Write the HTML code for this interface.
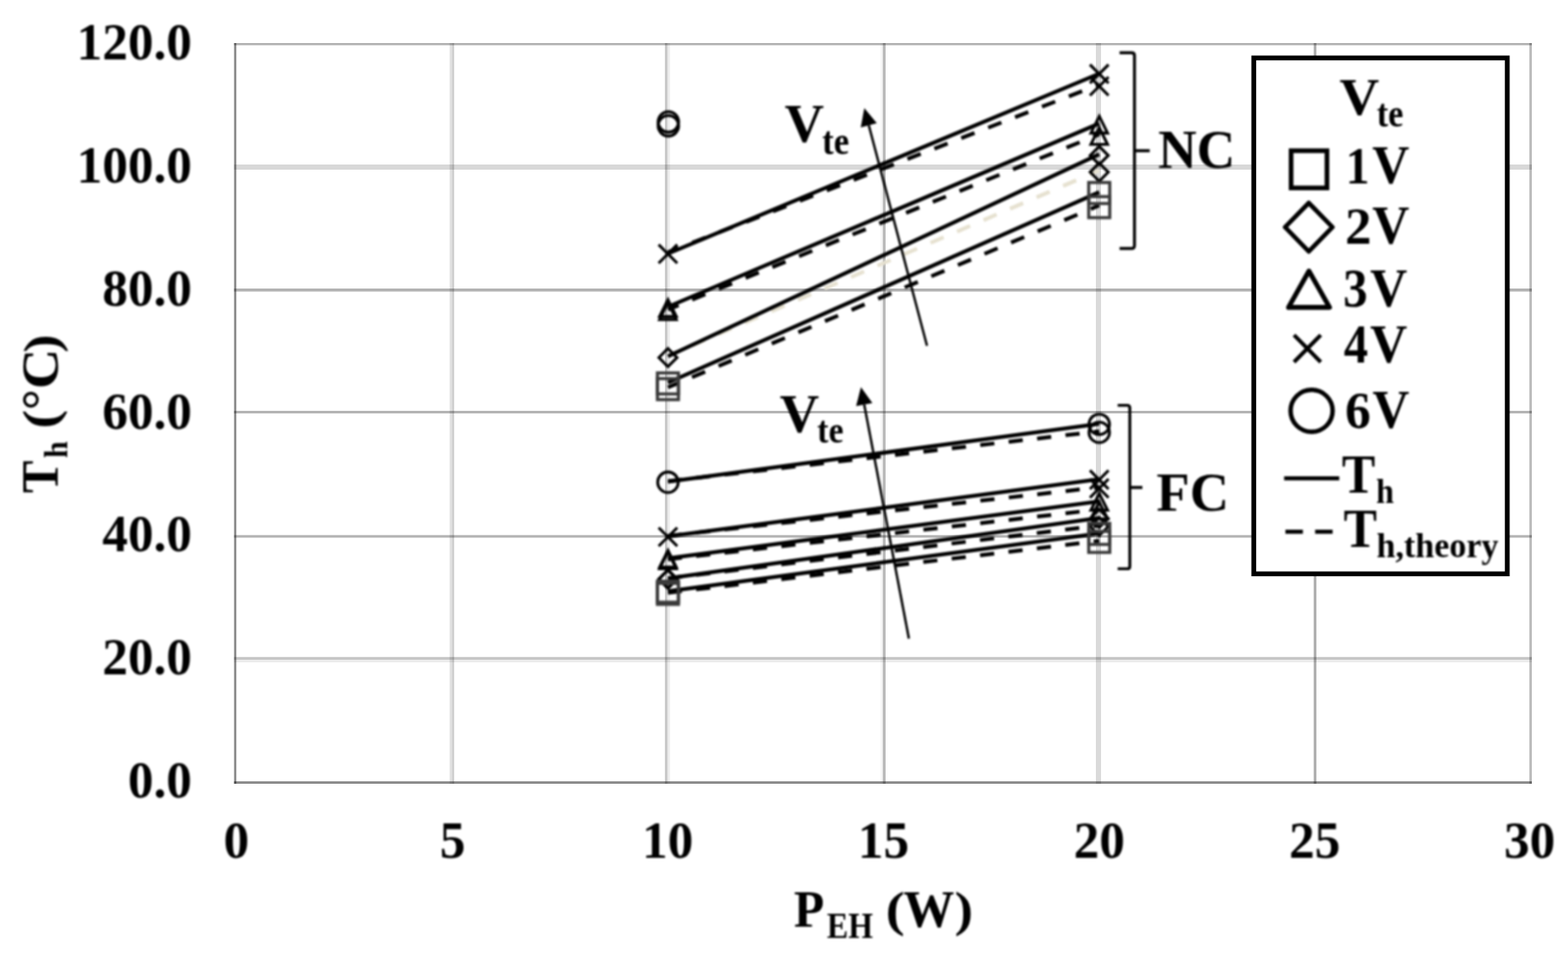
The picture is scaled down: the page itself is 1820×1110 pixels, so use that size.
<!DOCTYPE html>
<html lang="en"><head><meta charset="utf-8"><title>Th vs PEH</title>
<style>html,body{margin:0;padding:0;background:#fff;}body{width:1820px;height:1110px;overflow:hidden;}svg{display:block;}.s{filter:blur(1px);}.g{filter:blur(0.45px);}#grid rect{mix-blend-mode:multiply;}text{font-family:"Liberation Serif", "DejaVu Serif", serif;font-weight:bold;fill:#000;}</style></head><body>
<svg width="1820" height="1110" viewBox="0 0 1820 1110" role="img" aria-label="Hot-side temperature versus heater power">
<rect x="0" y="0" width="1820" height="1110" fill="#ffffff"/>
<g id="grid" class="g">
<rect x="521.8" y="50.0" width="2.7" height="860.0" fill="#e3e3e3"/>
<rect x="524.5" y="50.0" width="2.7" height="860.0" fill="#cfcfcf"/>
<rect x="771.8" y="50.0" width="2.8" height="860.0" fill="#c6c6c6"/>
<rect x="774.6" y="50.0" width="2.9" height="860.0" fill="#ececec"/>
<rect x="1022.0" y="50.0" width="2.7" height="860.0" fill="#f6f6f6"/>
<rect x="1024.7" y="50.0" width="3.2" height="860.0" fill="#b8b8b8"/>
<rect x="1272.0" y="50.0" width="6.0" height="860.0" fill="#dadada"/>
<rect x="1524.8" y="50.0" width="3.2" height="860.0" fill="#b0b0b0"/>
<rect x="271.7" y="191.0" width="1506.3" height="6.0" fill="#d8d8d8"/>
<rect x="271.7" y="335.0" width="1506.3" height="3.5" fill="#b2b2b2"/>
<rect x="271.7" y="477.0" width="1506.3" height="3.0" fill="#b4b4b4"/>
<rect x="271.7" y="621.3" width="1506.3" height="3.0" fill="#b4b4b4"/>
<rect x="271.7" y="762.8" width="1506.3" height="3.2" fill="#c6c6c6"/>
<rect x="271.7" y="766.0" width="1506.3" height="3.0" fill="#ececec"/>
<rect x="271.7" y="50.0" width="1506.3" height="2.5" fill="#b0b0b0"/>
<rect x="1775.2" y="50.0" width="2.8" height="860" fill="#bababa"/>
<rect x="271.7" y="50.0" width="2.6" height="860" fill="#888888"/>
<rect x="271.7" y="907.2" width="1506.3" height="2.8" fill="#888888"/>
</g>
<g id="plot" class="s">
<g id="theory" fill="none" stroke-width="4.5">
<line x1="775.3" y1="292.8" x2="1275.9" y2="98.1" stroke="#000" stroke-dasharray="16.5 17" stroke-dashoffset="3.2"/>
<line x1="775.3" y1="359.3" x2="1275.9" y2="156.0" stroke="#000" stroke-dasharray="16.5 17" stroke-dashoffset="3.2"/>
<line x1="775.3" y1="413.2" x2="1275.9" y2="197.8" stroke="#e6e1d0" stroke-dasharray="16.5 17" stroke-dashoffset="3.2"/>
<line x1="775.3" y1="449.8" x2="1275.9" y2="238.5" stroke="#000" stroke-dasharray="16.5 17" stroke-dashoffset="3.2"/>
<line x1="775.3" y1="558.7" x2="1275.9" y2="500.8" stroke="#000" stroke-dasharray="16.5 16.7" stroke-dashoffset="0.3"/>
<line x1="775.3" y1="622.2" x2="1275.9" y2="565.8" stroke="#000" stroke-dasharray="16.5 16.7" stroke-dashoffset="0.3"/>
<line x1="775.3" y1="649.4" x2="1275.9" y2="591.5" stroke="#000" stroke-dasharray="16.5 16.7" stroke-dashoffset="0.3"/>
<line x1="775.3" y1="671.5" x2="1275.9" y2="610.1" stroke="#000" stroke-dasharray="16.5 16.7" stroke-dashoffset="0.3"/>
<line x1="775.3" y1="688.3" x2="1275.9" y2="628.0" stroke="#000" stroke-dasharray="16.5 16.7" stroke-dashoffset="0.3"/>
</g>
<g id="measured" fill="none" stroke="#000" stroke-width="4.5">
<line x1="775.3" y1="294.5" x2="1275.9" y2="85.5"/>
<line x1="775.3" y1="356.3" x2="1275.9" y2="143.4"/>
<line x1="775.3" y1="413.8" x2="1275.9" y2="179.1"/>
<line x1="775.3" y1="444.2" x2="1275.9" y2="223.1"/>
<line x1="775.3" y1="559.3" x2="1275.9" y2="492.1"/>
<line x1="775.3" y1="622.8" x2="1275.9" y2="556.4"/>
<line x1="775.3" y1="648.2" x2="1275.9" y2="582.1"/>
<line x1="775.3" y1="671.4" x2="1275.9" y2="601.4"/>
<line x1="775.3" y1="686.4" x2="1275.9" y2="619.3"/>
</g>
<g id="markers" fill="none" stroke="#000">
<path d="M764.5 284.0L786.1 305.6M764.5 305.6L786.1 284.0" stroke-width="3.3"/>
<path d="M1265.1 75.0L1286.7 96.6M1265.1 96.6L1286.7 75.0" stroke-width="3.3"/>
<path d="M1265.1 89.3L1286.7 110.9M1265.1 110.9L1286.7 89.3" stroke-width="3.3"/>
<path d="M775.3 348.0L785.0 367.4L765.6 367.4Z" stroke-width="3.3"/>
<path d="M775.3 351.6L785.0 371.0L765.6 371.0Z" stroke-width="3.3"/>
<path d="M1275.9 135.1L1285.6 154.5L1266.2 154.5Z" stroke-width="3.3"/>
<path d="M1275.9 148.3L1285.6 167.7L1266.2 167.7Z" stroke-width="3.3"/>
<path d="M775.3 404.7L785.8 415.2L775.3 425.7L764.8 415.2Z" stroke-width="3.3"/>
<path d="M1275.9 170.0L1286.4 180.5L1275.9 191.0L1265.4 180.5Z" stroke-width="3.3"/>
<path d="M1275.9 189.3L1286.4 199.8L1275.9 210.3L1265.4 199.8Z" stroke-width="3.3"/>
<rect x="763.1" y="433.0" width="24.4" height="24.4" stroke="#3a3a3a" stroke-width="3.6"/>
<rect x="763.1" y="439.6" width="24.4" height="24.4" stroke="#3a3a3a" stroke-width="3.6"/>
<rect x="1263.7" y="211.9" width="24.4" height="24.4" stroke="#3a3a3a" stroke-width="3.6"/>
<rect x="1263.7" y="228.3" width="24.4" height="24.4" stroke="#3a3a3a" stroke-width="3.6"/>
<circle cx="775.3" cy="559.9" r="11.9" stroke-width="3.3"/>
<circle cx="1275.9" cy="492.7" r="11.9" stroke-width="3.3"/>
<circle cx="1275.9" cy="502.0" r="11.9" stroke-width="3.3"/>
<path d="M764.5 612.6L786.1 634.2M764.5 634.2L786.1 612.6" stroke-width="3.3"/>
<path d="M1265.1 546.2L1286.7 567.8M1265.1 567.8L1286.7 546.2" stroke-width="3.3"/>
<path d="M1265.1 556.2L1286.7 577.8M1265.1 577.8L1286.7 556.2" stroke-width="3.3"/>
<path d="M775.3 639.1L785.0 658.5L765.6 658.5Z" stroke-width="3.3"/>
<path d="M775.3 640.9L785.0 660.3L765.6 660.3Z" stroke-width="3.3"/>
<path d="M1275.9 573.0L1285.6 592.4L1266.2 592.4Z" stroke-width="3.3"/>
<path d="M1275.9 583.0L1285.6 602.4L1266.2 602.4Z" stroke-width="3.3"/>
<path d="M775.3 661.5L785.8 672.0L775.3 682.5L764.8 672.0Z" stroke-width="3.3"/>
<path d="M775.3 662.2L785.8 672.7L775.3 683.2L764.8 672.7Z" stroke-width="3.3"/>
<path d="M1275.9 591.5L1286.4 602.0L1275.9 612.5L1265.4 602.0Z" stroke-width="3.3"/>
<path d="M1275.9 600.8L1286.4 611.3L1275.9 621.8L1265.4 611.3Z" stroke-width="3.3"/>
<rect x="763.1" y="674.8" width="24.4" height="24.4" stroke="#3a3a3a" stroke-width="3.6"/>
<rect x="763.1" y="677.3" width="24.4" height="24.4" stroke="#3a3a3a" stroke-width="3.6"/>
<rect x="1263.7" y="607.7" width="24.4" height="24.4" stroke="#3a3a3a" stroke-width="3.6"/>
<rect x="1263.7" y="617.0" width="24.4" height="24.4" stroke="#3a3a3a" stroke-width="3.6"/>
<circle cx="775.8" cy="146.1" r="11.9" stroke-width="3.3"/>
<circle cx="775.8" cy="141.6" r="11.9" stroke-width="3.3"/>
</g>
<g id="arrows">
<line x1="1076.0" y1="401.5" x2="1008.4" y2="145.4" stroke="#000" stroke-width="2.8"/><path d="M1003.2 125.6L1017.7 143.0L999.1 147.9Z" fill="#000"/>
<line x1="1055.0" y1="741.5" x2="1003.1" y2="469.7" stroke="#000" stroke-width="2.8"/><path d="M999.3 449.6L1012.6 467.9L993.7 471.5Z" fill="#000"/>
</g>
<g id="brackets" fill="none" stroke="#000" stroke-width="3.4">
<path d="M1299.5 61.2 L1313.5 61.2 Q1316.8 61.2 1316.8 64.5 L1316.8 285.2 Q1316.8 288.5 1313.5 288.5 L1299.5 288.5 M1316.8 175 L1334.5 175"/>
<path d="M1297.3 470.6 L1308.4 470.6 Q1311.4 470.6 1311.4 473.6 L1311.4 657.4 Q1311.4 660.4 1308.4 660.4 L1297.3 660.4 M1311.4 566 L1326 566"/>
</g>
</g>
<rect class="g" x="1455.3" y="67.3" width="294.2" height="599" fill="#fff" stroke="#000" stroke-width="5.6"/>
<g id="legend" class="s" fill="none" stroke="#000" stroke-linejoin="round">
<rect x="1498.6" y="175.0" width="41.6" height="43.2" stroke-width="5.4" stroke-linejoin="miter"/>
<path d="M1519.1 235.6L1546.6 263.8L1519.1 292L1491.6 263.8Z" stroke-width="5.2"/>
<path d="M1519.3 314.6L1543.2 356.9L1495.6 356.9Z" stroke-width="5.6"/>
<path d="M1502 389L1533 420.3M1502 420.3L1533 389" stroke-width="4.6"/>
<circle cx="1522.4" cy="477" r="24.4" stroke-width="5.2"/>
<line x1="1490.5" y1="555.4" x2="1554.5" y2="555.4" stroke-width="4.6"/>
<line x1="1492" y1="617.4" x2="1547" y2="617.4" stroke-width="4.6" stroke-dasharray="20.3 14.2"/>
</g>
<g id="labels" class="s">
<text x="89.1" y="69.0" font-size="62.0" textLength="133.7" lengthAdjust="spacingAndGlyphs">120.0</text>
<text x="89.1" y="211.8" font-size="62.0" textLength="133.7" lengthAdjust="spacingAndGlyphs">100.0</text>
<text x="118.8" y="354.6" font-size="62.0" textLength="104.0" lengthAdjust="spacingAndGlyphs">80.0</text>
<text x="118.8" y="497.5" font-size="62.0" textLength="104.0" lengthAdjust="spacingAndGlyphs">60.0</text>
<text x="118.8" y="640.3" font-size="62.0" textLength="104.0" lengthAdjust="spacingAndGlyphs">40.0</text>
<text x="118.8" y="783.2" font-size="62.0" textLength="104.0" lengthAdjust="spacingAndGlyphs">20.0</text>
<text x="148.5" y="926.0" font-size="62.0" textLength="74.2" lengthAdjust="spacingAndGlyphs">0.0</text>
<text x="259.6" y="995.6" font-size="62.0" textLength="29.7" lengthAdjust="spacingAndGlyphs">0</text>
<text x="510.5" y="995.6" font-size="62.0" textLength="29.7" lengthAdjust="spacingAndGlyphs">5</text>
<text x="745.3" y="995.6" font-size="62.0" textLength="59.4" lengthAdjust="spacingAndGlyphs">10</text>
<text x="995.8" y="995.6" font-size="62.0" textLength="59.4" lengthAdjust="spacingAndGlyphs">15</text>
<text x="1246.3" y="995.6" font-size="62.0" textLength="59.4" lengthAdjust="spacingAndGlyphs">20</text>
<text x="1496.2" y="995.6" font-size="62.0" textLength="59.4" lengthAdjust="spacingAndGlyphs">25</text>
<text x="1745.7" y="995.6" font-size="62.0" textLength="59.4" lengthAdjust="spacingAndGlyphs">30</text>
<text><tspan x="921.6" y="1075.5" font-size="60.5" textLength="35.2" lengthAdjust="spacingAndGlyphs">P</tspan><tspan x="959.7" y="1089.2" font-size="42.3" textLength="53.6" lengthAdjust="spacingAndGlyphs">EH</tspan> <tspan x="1028.0" y="1074.8" font-size="57.4" textLength="22.1" lengthAdjust="spacingAndGlyphs">(</tspan><tspan x="1048.6" y="1075.6" font-size="61.1" textLength="59.2" lengthAdjust="spacingAndGlyphs">W</tspan><tspan x="1108.1" y="1074.8" font-size="57.4" textLength="21.5" lengthAdjust="spacingAndGlyphs">)</tspan></text>
<text transform="translate(0.0 0.0) rotate(-90)"><tspan x="-572.4" y="67.2" font-size="60.9" textLength="37.8" lengthAdjust="spacingAndGlyphs">T</tspan><tspan x="-531.8" y="78.3" font-size="37.7" textLength="19.4" lengthAdjust="spacingAndGlyphs">h</tspan> <tspan x="-497.7" y="66.2" font-size="56.0" textLength="22.0" lengthAdjust="spacingAndGlyphs">(</tspan><tspan x="-476.2" y="66.8" font-size="61.6" textLength="24.4" lengthAdjust="spacingAndGlyphs">°</tspan><tspan x="-451.8" y="67.1" font-size="60.4" textLength="47.0" lengthAdjust="spacingAndGlyphs">C</tspan><tspan x="-409.4" y="66.6" font-size="56.4" textLength="21.3" lengthAdjust="spacingAndGlyphs">)</tspan></text>
<text><tspan x="1344.3" y="195.1" font-size="62.4" textLength="89.6" lengthAdjust="spacingAndGlyphs">NC</tspan></text>
<text><tspan x="1342.3" y="592.8" font-size="63.1" textLength="84.2" lengthAdjust="spacingAndGlyphs">FC</tspan></text>
<text><tspan x="910.8" y="165.4" font-size="64.1" textLength="45.7" lengthAdjust="spacingAndGlyphs">V</tspan><tspan x="954.3" y="179.2" font-size="45.6" textLength="31.4" lengthAdjust="spacingAndGlyphs">te</tspan></text>
<text><tspan x="905.0" y="502.0" font-size="62.4" textLength="45.8" lengthAdjust="spacingAndGlyphs">V</tspan><tspan x="948.6" y="514.3" font-size="44.9" textLength="30.5" lengthAdjust="spacingAndGlyphs">te</tspan></text>
<text><tspan x="1554.7" y="133.0" font-size="61.4" textLength="46.1" lengthAdjust="spacingAndGlyphs">V</tspan><tspan x="1597.9" y="146.7" font-size="45.6" textLength="31.0" lengthAdjust="spacingAndGlyphs">te</tspan></text>
<text><tspan x="1561.9" y="212.9" font-size="62.3" textLength="27.6" lengthAdjust="spacingAndGlyphs">1</tspan><tspan x="1592.8" y="212.8" font-size="62.6" textLength="43.1" lengthAdjust="spacingAndGlyphs">V</tspan></text>
<text><tspan x="1561.2" y="282.9" font-size="61.8" textLength="30.7" lengthAdjust="spacingAndGlyphs">2</tspan><tspan x="1592.8" y="282.8" font-size="62.6" textLength="43.1" lengthAdjust="spacingAndGlyphs">V</tspan></text>
<text><tspan x="1558.9" y="356.1" font-size="62.7" textLength="28.4" lengthAdjust="spacingAndGlyphs">3</tspan><tspan x="1590.2" y="355.8" font-size="62.6" textLength="43.2" lengthAdjust="spacingAndGlyphs">V</tspan></text>
<text><tspan x="1559.7" y="421.3" font-size="63.5" textLength="28.2" lengthAdjust="spacingAndGlyphs">4</tspan><tspan x="1590.2" y="420.9" font-size="62.7" textLength="43.2" lengthAdjust="spacingAndGlyphs">V</tspan></text>
<text><tspan x="1561.3" y="496.9" font-size="62.1" textLength="29.8" lengthAdjust="spacingAndGlyphs">6</tspan><tspan x="1592.9" y="497.0" font-size="62.6" textLength="42.9" lengthAdjust="spacingAndGlyphs">V</tspan></text>
<text><tspan x="1557.4" y="571.8" font-size="64.2" textLength="38.8" lengthAdjust="spacingAndGlyphs">T</tspan><tspan x="1597.3" y="583.5" font-size="39.3" textLength="20.7" lengthAdjust="spacingAndGlyphs">h</tspan></text>
<text><tspan x="1559.4" y="635.1" font-size="62.8" textLength="38.8" lengthAdjust="spacingAndGlyphs">T</tspan><tspan x="1597.8" y="647.2" font-size="40.7" textLength="141.4" lengthAdjust="spacingAndGlyphs">h,theory</tspan></text>
</g>
</svg></body></html>
